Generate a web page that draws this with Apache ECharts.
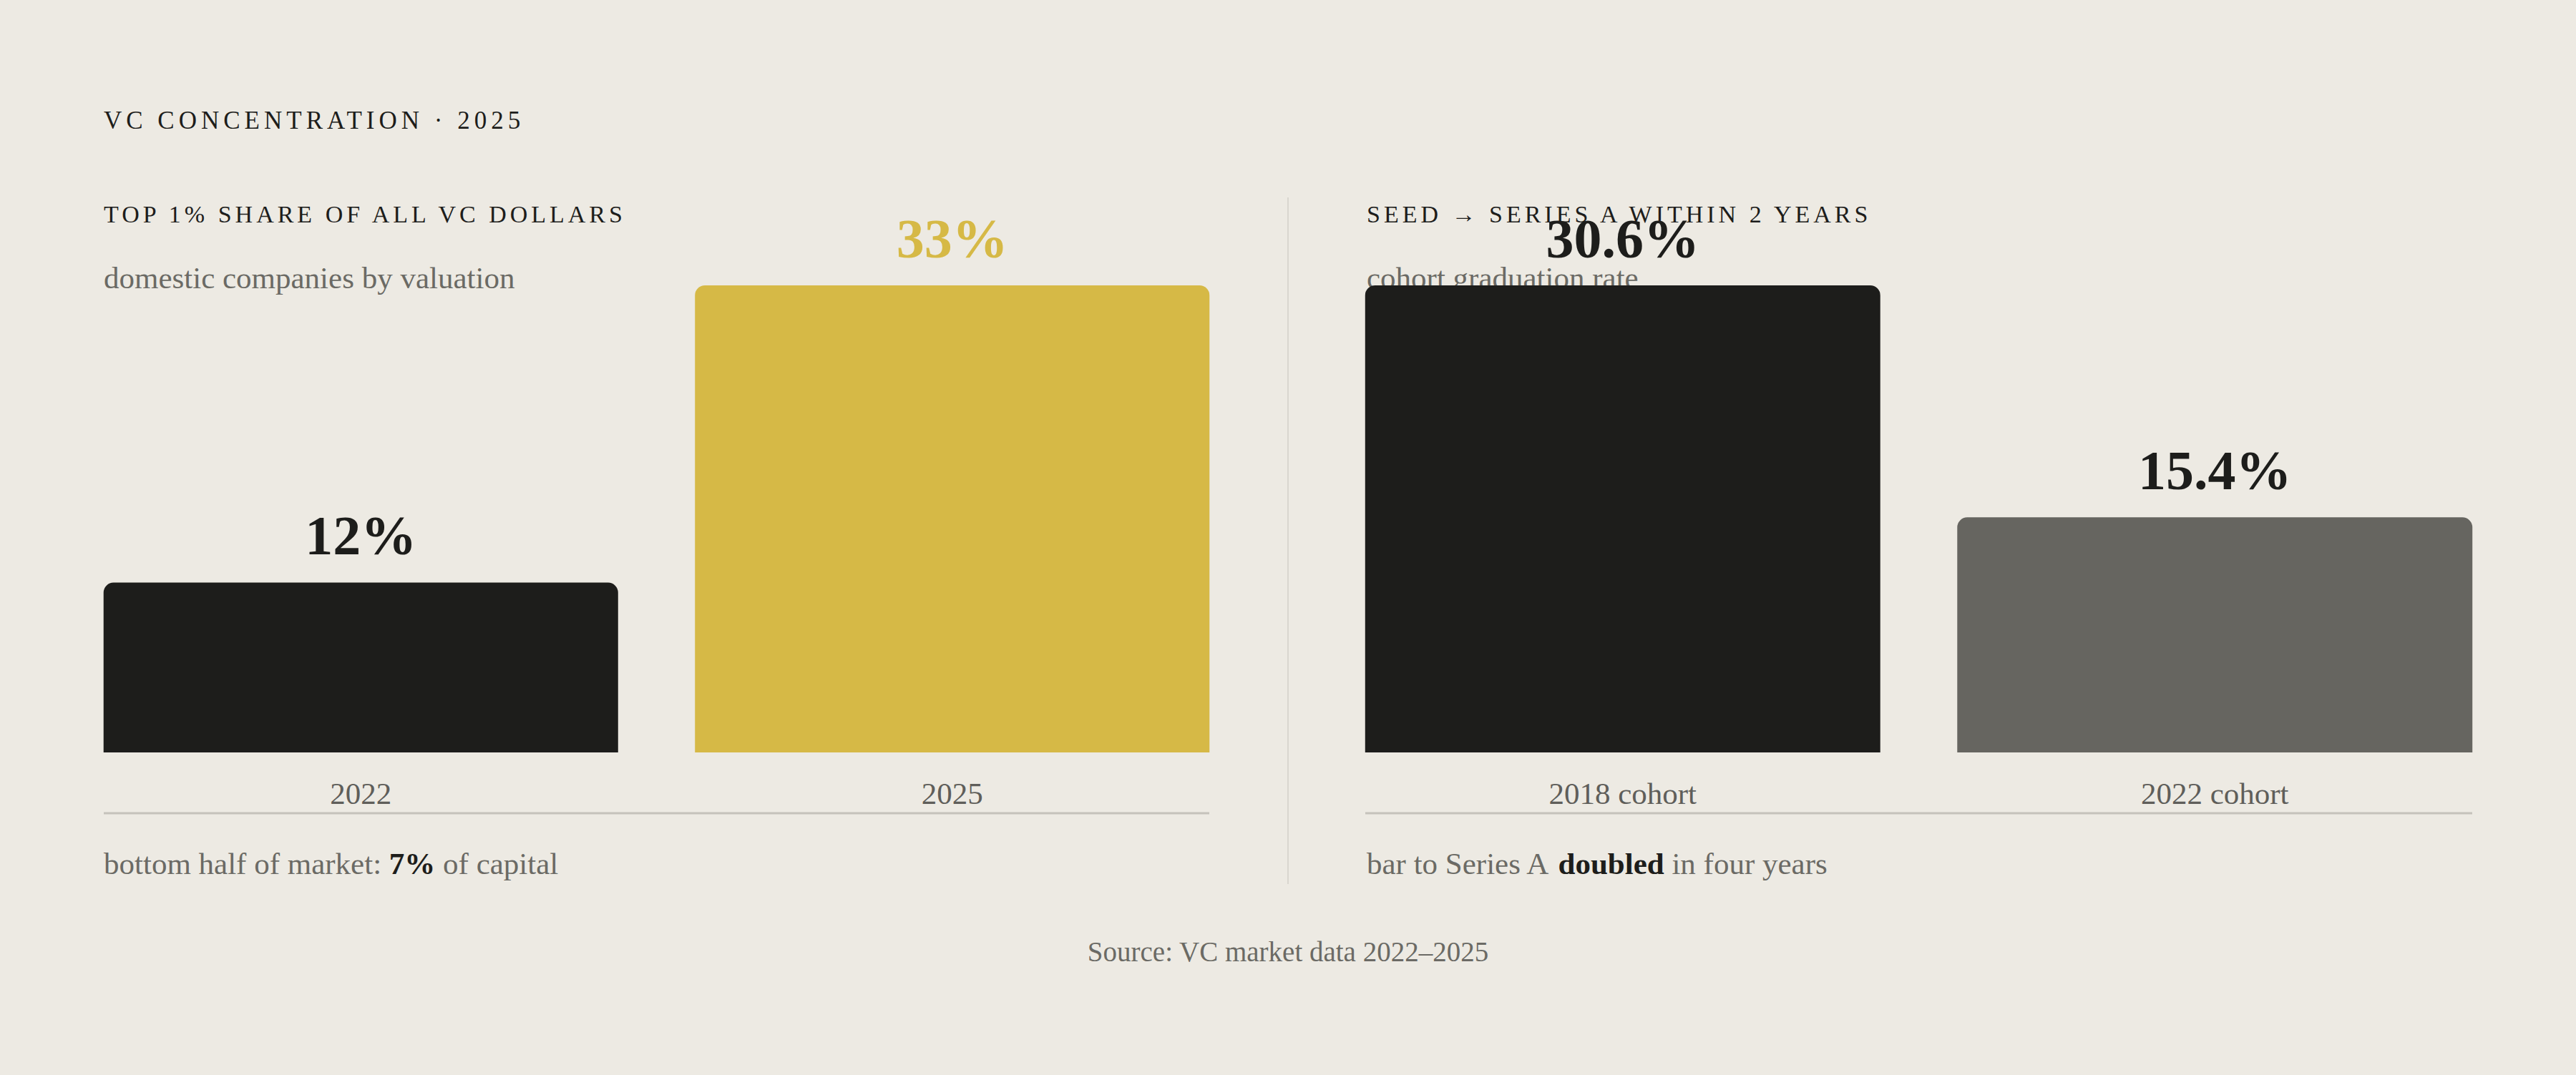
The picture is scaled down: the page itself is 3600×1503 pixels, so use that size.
<!DOCTYPE html>
<html>
<head>
<meta charset="utf-8">
<script src="https://cdn.jsdelivr.net/npm/echarts@6/dist/echarts.min.js"></script>
<style>
  html, body { margin: 0; padding: 0; background: #edeae3; }
  #chart { width: 3600px; height: 1503px; }
</style>
</head>
<body>
<div id="chart"></div>
<script>
// data
var shareYears = ['2022', '2025'];
var shareValues = [12, 33];
var cohortNames = ['2018 cohort', '2022 cohort'];
var cohortValues = [30.6, 15.4];

var INK = '#1d1d1b';
var GOLD = '#d6b946';
var GREY = '#666560';
var MUTED = '#6b6a65';
var SERIF = '"Liberation Serif", "DejaVu Serif", serif';

var chart = echarts.init(document.getElementById('chart'), null, { renderer: 'svg' });

function bar(gridIndex, values, colors, labelColors) {
  return {
    type: 'bar',
    xAxisIndex: gridIndex,
    yAxisIndex: gridIndex,
    barCategoryGap: '13%',
    data: values.map(function (v, i) {
      return {
        value: v,
        itemStyle: { color: colors[i], borderRadius: [14, 14, 0, 0] },
        label: { color: labelColors[i] }
      };
    }),
    label: {
      show: true,
      position: 'top',
      distance: 27,
      formatter: '{c}%',
      fontFamily: SERIF,
      fontWeight: 'bold',
      fontSize: 78,
      lineHeight: 78
    }
  };
}

function catAxis(gridIndex, names) {
  return {
    type: 'category',
    gridIndex: gridIndex,
    data: names,
    axisLine: { show: false },
    axisTick: { show: false },
    axisLabel: {
      margin: 36,
      color: '#5f5e5a',
      fontFamily: SERIF,
      fontSize: 43,
      lineHeight: 43
    }
  };
}

function valAxis(gridIndex) {
  return {
    type: 'value',
    gridIndex: gridIndex,
    min: 0,
    max: 'dataMax',
    show: false,
    splitLine: { show: false }
  };
}

function txt(x, y, text, size, color, extra) {
  var style = {
    text: text,
    x: 0,
    y: 0,
    fill: color,
    font: size + 'px ' + SERIF,
    verticalAlign: 'middle',
    align: 'left'
  };
  for (var k in extra) style[k] = extra[k];
  return { type: 'text', x: x, y: y, z: 0, style: style };
}

function note(x, y, text) {
  return {
    type: 'text', x: x, y: y, z: 0,
    style: {
      text: text,
      fill: MUTED, font: '43px ' + SERIF, verticalAlign: 'middle',
      rich: { b: { fill: INK, fontWeight: 'bold', fontSize: 43, fontFamily: SERIF } }
    }
  };
}

var option = {
  backgroundColor: '#edeae3',
  animation: false,
  grid: [
    { left: 91, top: 399, width: 1653, height: 653 },
    { left: 1854, top: 399, width: 1655, height: 653 }
  ],
  xAxis: [catAxis(0, shareYears), catAxis(1, cohortNames)],
  yAxis: [valAxis(0), valAxis(1)],
  series: [
    bar(0, shareValues, [INK, GOLD], [INK, GOLD]),
    bar(1, cohortValues, [INK, GREY], [INK, INK])
  ],
  graphic: [
    txt(145, 168, 'VC CONCENTRATION · 2025', 35, INK),
    txt(145, 299, 'TOP 1% SHARE OF ALL VC DOLLARS', 34, INK),
    txt(145, 388, 'domestic companies by valuation', 43, MUTED),
    txt(1910, 299, 'SEED → SERIES A WITHIN 2 YEARS', 34, INK),
    txt(1910, 388, 'cohort graduation rate', 43, MUTED),
    { type: 'line', z: 0, shape: { x1: 145, y1: 1137, x2: 1690, y2: 1137 }, style: { stroke: '#c5c2bb', lineWidth: 3 } },
    { type: 'line', z: 0, shape: { x1: 1908, y1: 1137, x2: 3455, y2: 1137 }, style: { stroke: '#c5c2bb', lineWidth: 3 } },
    { type: 'line', z: 0, shape: { x1: 1800, y1: 276, x2: 1800, y2: 1236 }, style: { stroke: '#d9d6cf', lineWidth: 2 } },
    note(145, 1207, 'bottom half of market: {b|7%} of capital'),
    note(1910, 1207, 'bar to Series A {b|doubled} in four years'),
    txt(1800, 1330, 'Source: VC market data 2022–2025', 39, MUTED, { align: 'center' })
  ]
};

chart.setOption(option);

// spaced small caps for the headings
var spacing = {
  'VC CONCENTRATION · 2025': '6',
  'TOP 1% SHARE OF ALL VC DOLLARS': '5',
  'SEED → SERIES A WITHIN 2 YEARS': '5'
};
function spaceHeadings() {
  var nodes = document.querySelectorAll('#chart svg text');
  nodes.forEach(function (n) {
    var ls = spacing[n.textContent];
    if (ls) n.setAttribute('letter-spacing', ls);
  });
}
chart.on('finished', spaceHeadings);
spaceHeadings();
</script>
</body>
</html>
